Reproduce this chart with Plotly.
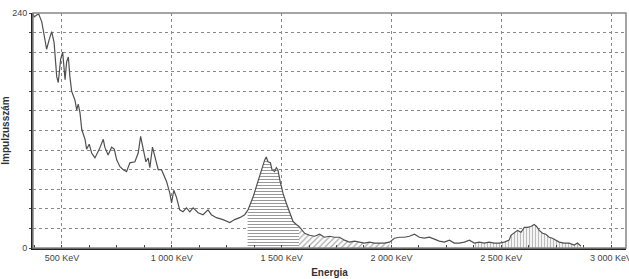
import numpy as np
import plotly.graph_objects as go

# Spectrum (energy keV, counts)
energy = [368, 373, 385, 394, 408, 423, 430, 442, 453, 464, 476, 483, 494, 503, 514, 521, 529, 536, 544,
          559, 567, 574, 582, 590, 605, 612, 624, 635, 650, 670, 688, 695, 710, 726, 738, 749, 764, 779,
          794, 809, 832, 847, 858, 870, 882, 892, 900, 912, 923, 938, 953, 968, 976, 991, 999, 1009, 1021,
          1036, 1051, 1067, 1082, 1097, 1120, 1142, 1165, 1180, 1203, 1233, 1264, 1286, 1309, 1332, 1345,
          1347, 1370, 1385, 1400, 1415, 1423, 1430, 1438, 1449, 1456, 1468, 1476, 1483, 1488, 1494, 1499,
          1506, 1521, 1536, 1552, 1567, 1579, 1605, 1627, 1650, 1673, 1695, 1718, 1741, 1764, 1786, 1809,
          1832, 1855, 1877, 1900, 1923, 1945, 1968, 1991, 2014, 2036, 2059, 2082, 2105, 2127, 2150, 2173,
          2195, 2218, 2241, 2264, 2286, 2309, 2332, 2355, 2377, 2400, 2423, 2445, 2468, 2491, 2514, 2536,
          2544, 2559, 2574, 2590, 2605, 2620, 2635, 2650, 2661, 2673, 2688, 2703, 2718, 2733, 2749, 2764,
          2786, 2809, 2832, 2847, 2862]
counts = [240, 236, 238, 239, 231, 210, 203, 213, 221, 210, 175, 169, 193, 200, 172, 190, 195, 175, 160,
          151, 141, 147, 138, 121, 111, 101, 106, 97, 92, 101, 111, 103, 95, 103, 101, 90, 83, 80,
          78, 87, 88, 97, 114, 101, 88, 92, 82, 103, 93, 80, 80, 73, 68, 56, 46, 59, 52,
          39, 37, 41, 37, 41, 36, 34, 39, 34, 31, 29, 26, 29, 31, 34, 38,
          39, 52, 63, 72, 83, 90, 93, 88, 87, 80, 78, 82, 80, 73, 67, 63,
          56, 46, 36, 27, 24, 22, 15, 13, 12, 14, 11, 12, 11, 11, 8, 6,
          7, 6, 5, 6, 5, 5, 5, 6, 10, 11, 11, 12, 14, 11, 10, 11,
          9, 7, 6, 8, 5, 5, 6, 8, 5, 6, 5, 6, 5, 5, 6, 8,
          13, 16, 18, 16, 21, 21, 22, 24, 22, 18, 15, 14, 11, 10, 8, 6,
          5, 5, 3, 5, 2]

# Marked regions (keV ranges) and their hatch styles
region_start = [1345, 1579, 2368]
region_end = [1579, 1991, 2862]
region_shape = ["-", "/", "|"]

x_tick_vals = [500, 1000, 1500, 2000, 2500, 3000]
x_tick_text = ["500 KeV", "1 000 KeV", "1 500 KeV", "2 000 KeV", "2 500 KeV", "3 000 KeV"]
y_tick_vals = list(range(0, 241, 20))
y_tick_text = ["0"] + [""] * 11 + ["240"]

e = np.array(energy, dtype=float)
c = np.array(counts, dtype=float)

fig = go.Figure()
pattern_size = {"-": 3, "/": 4, "|": 3}
pattern_sol = {"-": 0.35, "/": 0.3, "|": 0.45}
pattern_col = {"-": "#333333", "/": "#555555", "|": "#777777"}
for s, t, shp in zip(region_start, region_end, region_shape):
    m = (e >= s) & (e <= t)
    fig.add_trace(go.Scatter(
        x=e[m], y=c[m], mode="lines", line=dict(width=0),
        fill="tozeroy", fillcolor="rgba(0,0,0,0)",
        fillpattern=dict(shape=shp, fgcolor=pattern_col[shp], bgcolor="white",
                         size=pattern_size[shp], solidity=pattern_sol[shp]),
        hoverinfo="skip", showlegend=False))

fig.add_trace(go.Scatter(x=e, y=c, mode="lines",
                         line=dict(color="#505050", width=1.2), showlegend=False))

font = "Liberation Sans, Arial, sans-serif"
fig.update_layout(
    width=629, height=279,
    margin=dict(l=33, r=3, t=13, b=31, autoexpand=False),
    paper_bgcolor="white", plot_bgcolor="white",
    font=dict(family=font, size=9, color="#444444"),
    xaxis=dict(range=[368, 3068], tickvals=x_tick_vals, ticktext=x_tick_text,
               showgrid=True, gridcolor="#888888", griddash="dot", gridwidth=1,
               showline=True, linecolor="#222222", linewidth=2,
               ticks="", zeroline=False, ticklabeloverflow="allow", automargin=False,
               minor=dict(dtick=125, tick0=0, ticks="inside", ticklen=3, tickcolor="#444444", showgrid=False),
               title=dict(text="<b>Energia</b>", font=dict(size=10, color="#333333"), standoff=7)),
    yaxis=dict(range=[0, 240], tickvals=y_tick_vals, ticktext=y_tick_text,
               showgrid=True, gridcolor="#888888", griddash="dot", gridwidth=1,
               showline=True, linecolor="#222222", linewidth=2,
               ticks="outside", ticklen=2, tickcolor="#444444", zeroline=False, automargin=False,
               title=dict(text="<b>Impulzusszám</b>", font=dict(size=10, color="#333333"), standoff=2)),
    shapes=[dict(type="rect", xref="paper", yref="paper", x0=0, y0=0, x1=1, y1=1,
                 line=dict(color="#888888", width=1.5), layer="above")],
)

fig.write_html("out.html", config={"displayModeBar": False},
               post_script="document.body.style.margin='0';document.body.style.overflow='hidden';")
